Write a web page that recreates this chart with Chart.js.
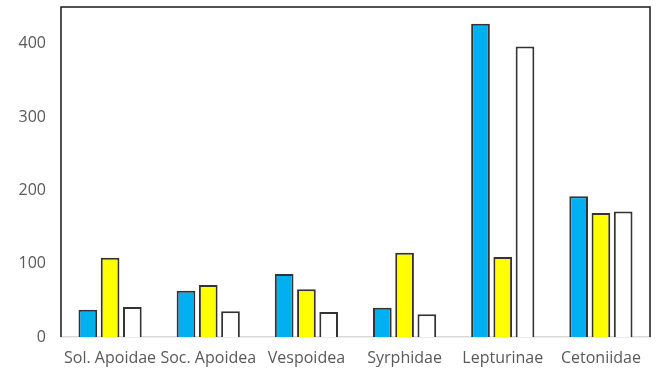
<!DOCTYPE html>
<html>
<head>
<meta charset="utf-8">
<script src="https://cdn.jsdelivr.net/npm/chart.js@4/dist/chart.umd.min.js"></script>
<style>
    html, body { margin: 0; padding: 0; background: #fff; }
    #wrap { width: 656px; height: 370px; }
</style>
</head>
<body>
<div id="wrap"><canvas id="chart"></canvas></div>
<script>
const categories = ['Sol. Apoidae', 'Soc. Apoidea', 'Vespoidea', 'Syrphidae', 'Lepturinae', 'Cetoniidae'];
const blueValues = [37, 63, 86, 40, 427, 192];
const yellowValues = [108, 71, 65, 115, 109, 169];
const whiteValues = [41, 35, 34, 31, 396, 171];
const yTicks = [0, 100, 200, 300, 400];

// frame round the plot area: left, top and right edges
const frame = {
    id: 'frame',
    afterDraw(chart) {
        const a = chart.chartArea;
        const c = chart.ctx;
        c.save();
        c.strokeStyle = '#1a1a1a';
        c.lineWidth = 1.5;
        c.beginPath();
        c.moveTo(a.left, a.bottom);
        c.lineTo(a.left, a.top);
        c.lineTo(a.right, a.top);
        c.lineTo(a.right, a.bottom);
        c.stroke();
        c.restore();
    }
};

function barSet(values, color) {
    return {
        data: values,
        backgroundColor: color,
        borderColor: '#333333',
        borderWidth: 2,
        borderSkipped: 'bottom',
        categoryPercentage: 0.68,
        barPercentage: 0.84
    };
}

const ctx = document.getElementById('chart');
new Chart(ctx, {
    type: 'bar',
    data: {
        labels: categories,
        datasets: [
            barSet(blueValues, '#00b0f0'),
            barSet(yellowValues, '#ffff00'),
            barSet(whiteValues, '#ffffff')
        ]
    },
    options: {
        responsive: true,
        maintainAspectRatio: false,
        animation: false,
        layout: { padding: { left: 0, top: 7, right: 6, bottom: 0 } },
        plugins: {
            legend: { display: false },
            tooltip: { enabled: false }
        },
        scales: {
            x: {
                grid: { display: false, drawTicks: false },
                border: { display: true, color: '#d9d9d9', width: 1.5 },
                ticks: {
                    color: '#595959',
                    font: { family: 'Open Sans', size: 16 },
                    padding: 12,
                    maxRotation: 0,
                    autoSkip: false
                },
                afterFit(scale) {
                    scale.height = 33;
                    scale.paddingLeft = 0;
                    scale.paddingRight = 0;
                }
            },
            y: {
                min: 0,
                max: 450,
                grid: { display: false, drawTicks: false },
                border: { display: false },
                ticks: {
                    color: '#595959',
                    font: { family: 'Open Sans', size: 16 },
                    padding: 15
                },
                afterBuildTicks(scale) {
                    scale.ticks = yTicks.map(v => ({ value: v }));
                },
                afterFit(scale) {
                    scale.width = 61;
                    scale.paddingTop = 0;
                    scale.paddingBottom = 0;
                }
            }
        }
    },
    plugins: [frame]
});
</script>
</body>
</html>
